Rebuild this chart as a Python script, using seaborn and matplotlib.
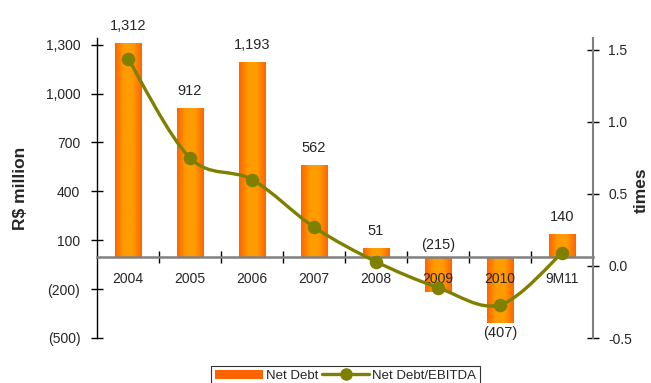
import numpy as np
import pandas as pd
import matplotlib
matplotlib.use("Agg")
import matplotlib.pyplot as plt
import seaborn as sns
from matplotlib.path import Path
from matplotlib.patches import PathPatch, Patch
from matplotlib.lines import Line2D
from matplotlib.colors import LinearSegmentedColormap
from matplotlib.ticker import FuncFormatter

# data
years = ["2004", "2005", "2006", "2007", "2008", "2009", "2010", "9M11"]
net_debt = [1312, 912, 1193, 562, 51, -215, -407, 140]
debt_ebitda = [1.44, 0.75, 0.60, 0.27, 0.03, -0.15, -0.27, 0.09]
left_ticks = [-500, -200, 100, 400, 700, 1000, 1300]
right_ticks = [-0.5, 0.0, 0.5, 1.0, 1.5]

ORANGE_DARK = "#FF6400"
ORANGE_LIGHT = "#FF9C00"
OLIVE = "#7F7F00"
GREY = "#808080"

sns.set_style("white")
plt.rcParams["font.family"] = ["Liberation Sans", "DejaVu Sans"]

df = pd.DataFrame({"year": years, "net_debt": net_debt, "ratio": debt_ebitda})

fig = plt.figure(figsize=(6.51, 3.83), dpi=100)
ax = fig.add_axes([97 / 651, 45 / 383, 496 / 651, 300 / 383])

sns.barplot(data=df, x="year", y="net_debt", ax=ax, color=ORANGE_DARK,
            width=0.42, saturation=1, zorder=2)

# horizontal gradient on each bar (dark edges, light centre)
grad_cmap = LinearSegmentedColormap.from_list(
    "bar", [ORANGE_DARK, ORANGE_LIGHT, ORANGE_LIGHT, ORANGE_DARK])
grad = np.linspace(0, 1, 64).reshape(1, -1)
for p in ax.patches:
    x0, y0 = p.get_x(), p.get_y()
    w, h = p.get_width(), p.get_height()
    im = ax.imshow(grad, cmap=grad_cmap, aspect="auto", zorder=2.1,
                   extent=[x0, x0 + w, min(y0, y0 + h), max(y0, y0 + h)])
    im.set_clip_path(p)

ax.set_xlim(-0.5, len(years) - 0.5)
ax.set_ylim(-500, 1341)
ax.set_axisbelow(False)

# data labels
label_above_zero = {"2009"}
for i, (yr, v) in enumerate(zip(years, net_debt)):
    txt = f"{v:,}" if v >= 0 else f"({-v:,})"
    if v >= 0:
        ax.annotate(txt, (i, v), xytext=(0, 7), textcoords="offset points",
                    ha="center", va="bottom", fontsize=10.5)
    elif yr in label_above_zero:
        ax.annotate(txt, (i, 0), xytext=(0, 3), textcoords="offset points",
                    ha="center", va="bottom", fontsize=10.5)
    else:
        ax.annotate(txt, (i, v), xytext=(0, -2), textcoords="offset points",
                    ha="center", va="top", fontsize=10.5)

# axes styling
ax.spines["top"].set_visible(False)
ax.spines["right"].set_visible(False)
ax.spines["left"].set_color("black")
ax.spines["left"].set_linewidth(1.0)
ax.spines["bottom"].set_position(("data", 0))
ax.spines["bottom"].set_color(GREY)
ax.spines["bottom"].set_linewidth(1.8)
ax.spines["bottom"].set_zorder(3)
ax.set_yticks(left_ticks)
ax.yaxis.set_major_formatter(FuncFormatter(
    lambda v, _: f"{int(v):,}" if v >= 0 else f"({int(-v):,})"))
ax.tick_params(axis="y", direction="inout", length=8, width=1, color="black",
               labelsize=10, pad=8, left=True)
ax.set_xticks(range(len(years)))
ax.set_xticks(np.arange(0.5, len(years) - 1, 1.0), minor=True)
ax.tick_params(axis="x", which="major", length=0, labelsize=10, pad=11)
ax.tick_params(axis="x", which="minor", direction="inout", length=8,
               width=1, color="black", bottom=True)
ax.set_xlabel("")
ax.set_ylabel("")
fig.text(21 / 651, 1 - 188 / 383, "R$ million", rotation=90, ha="center",
         va="center", fontsize=12.5, fontweight="bold")

# secondary axis with smoothed line
ax2 = ax.twinx()
ax2.set_ylim(-0.5, 1.583)
xs = np.arange(len(years), dtype=float)
ys = np.array(debt_ebitda)
pts = np.column_stack([xs, ys])
verts = [pts[0]]
codes = [Path.MOVETO]
n = len(pts)
for i in range(n - 1):
    p_prev = pts[max(i - 1, 0)]
    p0, p1 = pts[i], pts[i + 1]
    p_next = pts[min(i + 2, n - 1)]
    c1 = p0 + (p1 - p_prev) / 6
    c2 = p1 - (p_next - p0) / 6
    verts += [c1, c2, p1]
    codes += [Path.CURVE4] * 3
ax2.add_patch(PathPatch(Path(verts, codes), facecolor="none",
                        edgecolor=OLIVE, linewidth=2.4, zorder=3))
sns.scatterplot(x=xs, y=ys, ax=ax2, color=OLIVE, s=95, linewidth=0,
                zorder=4, legend=False)
ax2.set_xlim(-0.5, len(years) - 0.5)

for s in ["top", "left", "bottom"]:
    ax2.spines[s].set_visible(False)
ax2.spines["right"].set_color(GREY)
ax2.spines["right"].set_linewidth(1.5)
ax2.set_yticks(right_ticks)
ax2.yaxis.set_major_formatter(FuncFormatter(lambda v, _: f"{v:.1f}"))
ax2.tick_params(axis="y", direction="inout", length=8, width=1, color="black",
                labelsize=10, pad=7, right=True)
ax2.set_ylabel("")
fig.text(641 / 651, 1 - 190 / 383, "times", rotation=90, ha="center",
         va="center", fontsize=12.5, fontweight="bold")

handles = [
    Patch(facecolor=ORANGE_DARK, edgecolor="none", label="Net Debt"),
    Line2D([0], [0], color=OLIVE, linewidth=2.4, marker="o", markersize=8,
           label="Net Debt/EBITDA"),
]
leg = fig.legend(handles=handles, loc="upper center",
                 bbox_to_anchor=(0.531, 0.062), ncol=2, frameon=True,
                 fancybox=False, edgecolor="black", fontsize=9.5,
                 handlelength=3.6, handletextpad=0.2, columnspacing=0.3,
                 borderpad=0.3)
leg.get_frame().set_linewidth(0.8)

fig.savefig("out.png", dpi=100)
